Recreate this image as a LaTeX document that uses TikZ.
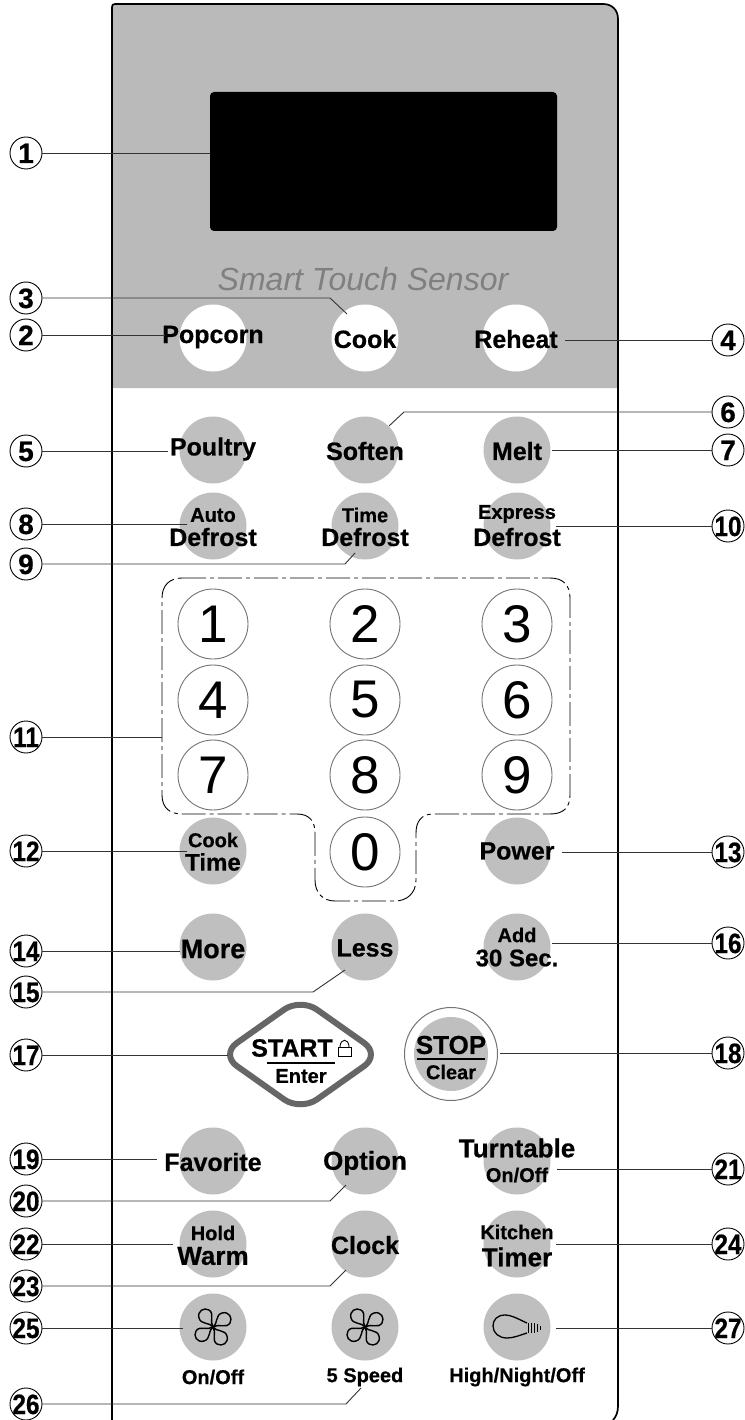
\documentclass[tikz,border=0pt]{standalone}
\usepackage{fontspec}
\setmainfont[BoldFeatures={FakeBold=0.5}]{Liberation Sans}
\definecolor{panelgrey}{gray}{0.73}
\definecolor{btngrey}{gray}{0.75}
\definecolor{ringgrey}{gray}{0.45}
\newcommand{\nn}[1]{\raisebox{-10pt}[0pt][0pt]{\makebox[0pt]{\bfseries\fontsize{28}{28}\selectfont\ifnum#1>9 \scalebox{.87}[1]{#1}\else #1\fi}}}
\newcommand{\fs}[1]{\fontsize{#1}{#1}\selectfont}
\tikzset{
  x=1pt,y=-1pt,
  num/.style={circle,draw=black,line width=0.9pt,fill=white,minimum size=32pt,inner sep=0pt},
  lead/.style={line width=0.9pt,draw=black!80},
  softbtn/.style={circle,fill=btngrey,minimum size=67pt,inner sep=0pt},
  whitebtn/.style={circle,fill=white,minimum size=67pt,inner sep=0pt},
  digit/.style={circle,draw=ringgrey,line width=0.9pt,fill=white,minimum size=70pt,inner sep=0pt,font=\fs{53}},
  lbl/.style={font=\bfseries\fs{25},inner sep=0pt},
  lblsm/.style={font=\bfseries\fs{20},inner sep=0pt},
}
\newcommand{\fanblades}[1]{%
  \foreach \a in {0,90,180,270}{
    \begin{scope}[shift={#1},rotate=\a]
      \draw[line width=1.4pt,line join=round] (0,0) .. controls (-3,-5) and (-12,-2) .. (-14,-9) .. controls (-16,-16) and (-9,-20) .. (-4,-17) .. controls (2,-13) and (-4,-6) .. (0,0);
    \end{scope}}%
}
\begin{document}
\begin{tikzpicture}
\useasboundingbox (0,0) rectangle (744,1420);
% panel
\fill[panelgrey] (112,388) -- (112,4) -- (603,4) .. controls (612,4) and (618,10) .. (618,19) -- (618,388) -- cycle;
\draw[line width=1.7pt] (112,1420) -- (112,7) .. controls (112,5) and (113,4) .. (115,4) -- (603,4) .. controls (612,4) and (618,10) .. (618,19) -- (618,1406) .. controls (618,1412) and (616,1417) .. (613,1420);
% display
\node[fill=black,rounded corners=4pt,minimum width=347pt,minimum height=139pt,inner sep=0pt] (display) at (383.5,161.5) {};
\node[inner sep=0pt,text=black!50,font=\itshape\fs{32}] (smart) at (363,279) {Smart Touch Sensor};
% buttons on grey
\node[whitebtn] (popcorn) at (213,338) {};
\node[whitebtn] (cook) at (365,338) {};
\node[whitebtn] (reheat) at (516,338) {};
\node[lbl] (popcornT) at (213,337) {Popcorn};
\node[lbl] (cookT) at (365,339) {Cook};
\node[lbl] (reheatT) at (516,339) {Reheat};
% soft buttons
\node[softbtn] (poultry) at (213,450) {};
\node[softbtn] (soften) at (365,450) {};
\node[softbtn] (melt) at (517,450) {};
\node[lbl] (poultryT) at (213,449) {Poultry};
\node[lbl] (softenT) at (365,451) {Soften};
\node[lbl] (meltT) at (517,451) {Melt};
\node[softbtn] (autod) at (213,526) {};
\node[softbtn] (timed) at (365,526) {};
\node[softbtn] (expd) at (517,526) {};
\node[lblsm] (autoT) at (213,515) {Auto};
\node[lbl] (adT) at (213,537) {Defrost};
\node[lblsm] (timeT) at (365,515) {Time};
\node[lbl] (tdT) at (365,537) {Defrost};
\node[lblsm] (expT) at (517,514) {Express};
\node[lbl] (edT) at (517,537) {Defrost};
% keypad outline
\draw[dash pattern=on 24pt off 4pt on 4pt off 4pt,line width=0.9pt] (182,578) -- (550,578) .. controls (563,578) and (570,585) .. (570,598) -- (570,795) .. controls (570,808) and (563,814) .. (550,814) -- (433,814) .. controls (421,814) and (416,822) .. (416,833) -- (416,880) .. controls (416,893) and (407,901) .. (395,901) -- (335,901) .. controls (323,901) and (315,893) .. (315,880) -- (315,833) .. controls (315,822) and (310,814) .. (297,814) -- (182,814) .. controls (170,814) and (162,808) .. (162,795) -- (162,598) .. controls (162,585) and (170,578) .. (182,578) -- cycle;
\coordinate (padleft) at (162,737);
% digits
\node[digit] (d1) at (213,624) {1};
\node[digit] (d2) at (365,624) {2};
\node[digit] (d3) at (517,624) {3};
\node[digit] (d4) at (213,700) {4};
\node[digit] (d5) at (365,700) {5};
\node[digit] (d6) at (517,700) {6};
\node[digit] (d7) at (213,775) {7};
\node[digit] (d8) at (365,775) {8};
\node[digit] (d9) at (517,775) {9};
\node[digit] (d0) at (365,852) {0};
% more soft buttons
\node[softbtn] (cooktime) at (213,851) {};
\node[lblsm] (cookT2) at (213,840) {Cook};
\node[lbl,font=\bfseries\fs{24}] (timeT2) at (213,862) {Time};
\node[softbtn] (power) at (517,851) {};
\node[lbl] (powerT) at (517,851) {Power};
\node[softbtn] (more) at (213,947) {};
\node[lbl,font=\bfseries\fs{27}] (moreT) at (213,949) {More};
\node[softbtn] (less) at (365,947) {};
\node[lbl] (lessT) at (365,948) {Less};
\node[softbtn] (add) at (517,947) {};
\node[lblsm] (addT) at (517,935) {Add};
\node[lbl,font=\bfseries\fs{24}] (secT) at (517,958) {30 Sec.};
% start
\draw[line width=6pt,draw=black!60,fill=white,rounded corners=20pt] (300.5,998) -- (380.5,1054.5) -- (300.5,1111) -- (220.5,1054.5) -- cycle;
\coordinate (startL) at (228,1055);
\node[font=\bfseries\fs{25},inner sep=0pt] (startT) at (292,1048) {START};
\draw[line width=0.9pt] (338,1047) rectangle (351,1056);
\draw[line width=0.9pt] (340,1047) .. controls (340,1038) and (349,1038) .. (349,1047);
\draw[line width=2pt] (267,1063) -- (335,1063);
\node[lblsm] (enterT) at (301,1076) {Enter};
% stop
\node[circle,draw=ringgrey,line width=1pt,fill=white,minimum size=93pt,inner sep=0pt] (stopo) at (451,1054) {};
\node[circle,fill=btngrey,minimum size=74pt,inner sep=0pt] (stopi) at (451,1054) {};
\node[font=\bfseries\fs{26},inner sep=0pt] (stopT) at (451,1045) {STOP};
\draw[line width=1.8pt] (417,1059) -- (485,1059);
\node[lblsm] (clearT) at (451,1072) {Clear};
% bottom rows
\node[softbtn] (fav) at (213,1161) {};
\node[lbl] (favT) at (213,1162) {Favorite};
\node[softbtn] (opt) at (365,1161) {};
\node[lbl,font=\bfseries\fs{26}] (optT) at (365,1163) {Option};
\node[softbtn] (turn) at (517,1161) {};
\node[lbl,font=\bfseries\fs{26}] (turnT) at (517,1148) {Turntable};
\node[lblsm] (onoffT) at (517,1175) {On/Off};
\node[softbtn] (hold) at (213,1244) {};
\node[lblsm] (holdT) at (213,1233) {Hold};
\node[lbl,font=\bfseries\fs{26}] (warmT) at (213,1256) {Warm};
\node[softbtn] (clock) at (365,1244) {};
\node[lbl] (clockT) at (365,1245) {Clock};
\node[softbtn] (kit) at (517,1244) {};
\node[lblsm] (kitT) at (517,1232) {Kitchen};
\node[lbl,font=\bfseries\fs{26}] (timerT) at (517,1257) {Timer};
\node[softbtn] (fan1) at (213,1327) {};
\node[softbtn] (fan2) at (365,1327) {};
\node[softbtn] (light) at (517,1327) {};
\fanblades{(213,1327)}
\fanblades{(365,1327)}
\draw[line width=1.3pt] (527,1323) .. controls (520,1320) and (512,1315) .. (505,1315) .. controls (497,1315) and (493,1320) .. (493,1326) .. controls (493,1333) and (499,1338) .. (507,1338) .. controls (514,1338) and (520,1335) .. (527,1333);
\foreach \i/\h in {0/5,3/5,6/5,9/4,12/2}{\draw[line width=1pt] (528+\i,1328-\h) -- (528+\i,1328+\h);}
\node[lblsm] (t1) at (213,1377) {On/Off};
\node[lblsm] (t2) at (365,1377) {5 Speed};
\node[lblsm] (t3) at (517,1377) {High/Night/Off};
% number labels
\node[num] (n1) at (26,153) {\nn{1}};
\node[num] (n3) at (26,298) {\nn{3}};
\node[num] (n2) at (26,335) {\nn{2}};
\node[num] (n4) at (728,340) {\nn{4}};
\node[num] (n5) at (26,451) {\nn{5}};
\node[num] (n6) at (728,412) {\nn{6}};
\node[num] (n7) at (728,450) {\nn{7}};
\node[num] (n8) at (26,524) {\nn{8}};
\node[num] (n9) at (26,564) {\nn{9}};
\node[num] (n10) at (728,526) {\nn{10}};
\node[num] (n11) at (26,737) {\nn{11}};
\node[num] (n12) at (26,851) {\nn{12}};
\node[num] (n13) at (728,852) {\nn{13}};
\node[num] (n14) at (26,951) {\nn{14}};
\node[num] (n15) at (26,992) {\nn{15}};
\node[num] (n16) at (728,943) {\nn{16}};
\node[num] (n17) at (26,1055) {\nn{17}};
\node[num] (n18) at (728,1053) {\nn{18}};
\node[num] (n19) at (26,1159) {\nn{19}};
\node[num] (n20) at (26,1201) {\nn{20}};
\node[num] (n21) at (728,1169) {\nn{21}};
\node[num] (n22) at (26,1244) {\nn{22}};
\node[num] (n23) at (26,1286) {\nn{23}};
\node[num] (n24) at (728,1244) {\nn{24}};
\node[num] (n25) at (26,1328) {\nn{25}};
\node[num] (n26) at (26,1404) {\nn{26}};
\node[num] (n27) at (728,1328) {\nn{27}};
% leaders
\draw[lead] (n1.east) -- (display.west |- n1.east);
\draw[lead] (n3.east) -- (330,298) -- (347,314);
\draw[lead] (n2.east) -- (165,335);
\draw[lead] (n4.west) -- (565,340);
\draw[lead] (n5.east) -- (168,451);
\draw[lead] (n6.west) -- (404,412) -- (389,426);
\draw[lead] (n7.west) -- (552,450);
\draw[lead] (n8.east) -- (187,524);
\draw[lead] (n9.east) -- (345,564) -- (355,553);
\draw[lead] (n10.west) -- (556,526);
\draw[lead] (n11.east) -- (padleft);
\draw[lead] (n12.east) -- (187,851);
\draw[lead] (n13.west) -- (562,852);
\draw[lead] (n14.east) -- (180,951);
\draw[lead] (n15.east) -- (313,992) -- (345,970);
\draw[lead] (n16.west) -- (552,943);
\draw[lead] (n17.east) -- (startL);
\draw[lead] (n18.west) -- (500,1053);
\draw[lead] (n19.east) -- (157,1159);
\draw[lead] (n20.east) -- (330,1201) -- (346,1185);
\draw[lead] (n21.west) -- (557,1169);
\draw[lead] (n22.east) -- (173,1244);
\draw[lead] (n23.east) -- (330,1286) -- (346,1270);
\draw[lead] (n24.west) -- (556,1244);
\draw[lead] (n25.east) -- (183,1328);
\draw[lead] (n26.east) -- (346,1404) -- (361,1388);
\draw[lead] (n27.west) -- (556,1328);
\end{tikzpicture}
\end{document}
